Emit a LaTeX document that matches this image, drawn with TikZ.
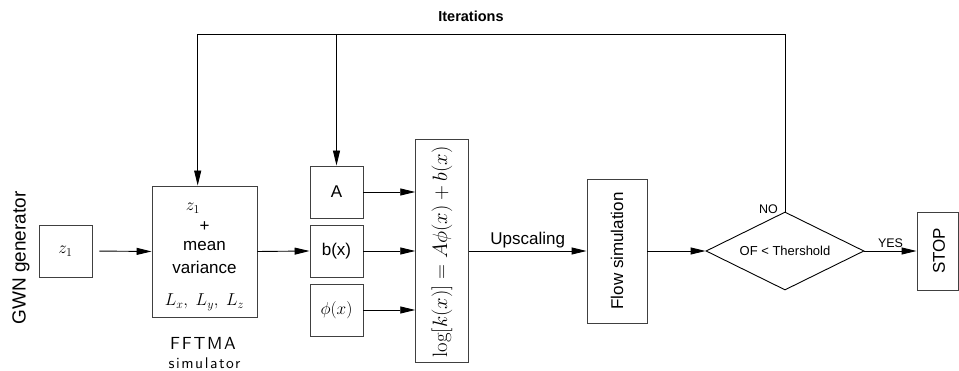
\documentclass[tikz,border=0pt]{standalone}
\usepackage[no-math]{fontspec}
\setmainfont{Liberation Sans}
\newfontfamily\fftfont{lmsans10-regular.otf}[LetterSpace=10]
\usetikzlibrary{arrows.meta,shapes.geometric}
\begin{document}
\begin{tikzpicture}[x=1pt,y=1pt,
  box/.style={draw=black!75,line width=0.9pt,rectangle,inner sep=0pt},
  conn/.style={draw=black,line width=0.9pt},
  arr/.style={conn,-{Triangle[length=15pt,width=7pt]}},
  big/.style={font=\fontsize{17}{20}\selectfont},
  small/.style={font=\fontsize{12.5}{14}\selectfont}]
\useasboundingbox (0,0) rectangle (959,371);
% nodes
\node[font=\fontsize{19}{22}\selectfont,rotate=90] (gwn) at (21,113) {GWN generator};
\node[box,big,minimum width=53pt,minimum height=52pt] (z) at (65.5,120) {$z_1$};
\node[box,minimum width=105pt,minimum height=131pt] (fft) at (204.5,119.5) {};
\node[big] (fz) at (193,163) {$z_1$};
\node[big] (fp) at (204.5,144) {+};
\node[big] (fm) at (204.5,125) {mean};
\node[big] (fv) at (204.5,104) {variance};
\node[big] (fl) at (204.5,69) {$L_x,\ L_y,\ L_z$};
\node[font=\fftfont\fontsize{17.5}{20}\selectfont] (ftl) at (203,28) {FFTMA};
\node[font=\fftfont\fontsize{15.5}{18}\selectfont] (fsl) at (204.5,8) {simulator};
\node[box,big,minimum width=53pt,minimum height=52pt] (A) at (336.5,179) {A};
\node[box,big,minimum width=53pt,minimum height=52pt] (b) at (336.5,120) {b(x)};
\node[box,big,minimum width=53pt,minimum height=52pt] (phi) at (336.5,61) {$\phi(x)$};
\node[box,minimum width=52.6pt,minimum height=223pt] (log) at (442,120.5) {};
\node[font=\fontsize{20.5}{24}\selectfont,rotate=90] (logt) at (442,119) {$\log[k(x)] = A\phi(x) + b(x)$};
\node[box,minimum width=60pt,minimum height=144pt] (flow) at (617,120) {};
\node[big,rotate=90] (flowt) at (617,120) {Flow simulation};
\node[draw=black,line width=0.9pt,diamond,aspect=2.03,inner sep=0pt,minimum width=158pt,minimum height=78pt,font=\fontsize{13}{15}\selectfont] (dia) at (785,120) {OF < Thershold};
\node[box,minimum width=41pt,minimum height=78pt] (stop) at (937.5,120) {};
\node[big,rotate=90] (stopt) at (939,120) {STOP};
\node[font=\bfseries\fontsize{14.5}{17}\selectfont] (it) at (471,355) {Iterations};
% connectors
\draw[arr,shorten <=7pt] (z.east) -- (fft.east -| fft.west);
\draw[arr] (fft.east) -- (b.west);
\draw[arr] (A.east) -- (A.east -| log.west);
\draw[arr] (b.east) -- (b.east -| log.west);
\draw[arr] (phi.east) -- (phi.east -| log.west);
\draw[arr] (log.east |- flow.west) -- node[above,big,inner sep=3pt] {Upscaling} (flow.west);
\draw[arr] (flow.east) -- (dia.west);
\draw[arr] (dia.east) -- node[above,small,inner sep=3pt] {YES} (stop.west);
\node[small,anchor=south east,inner sep=1pt] (no) at ([xshift=-6pt,yshift=-3pt]dia.north) {NO};
\coordinate (tr) at (785,337);
\coordinate (tl) at (197.7,337);
\coordinate (tm) at (336.5,337);
\draw[arr] (dia.north) -- (tr) -- (tl) -- (tl |- fft.north);
\draw[arr] (tm) -- (A.north);
\end{tikzpicture}
\end{document}
